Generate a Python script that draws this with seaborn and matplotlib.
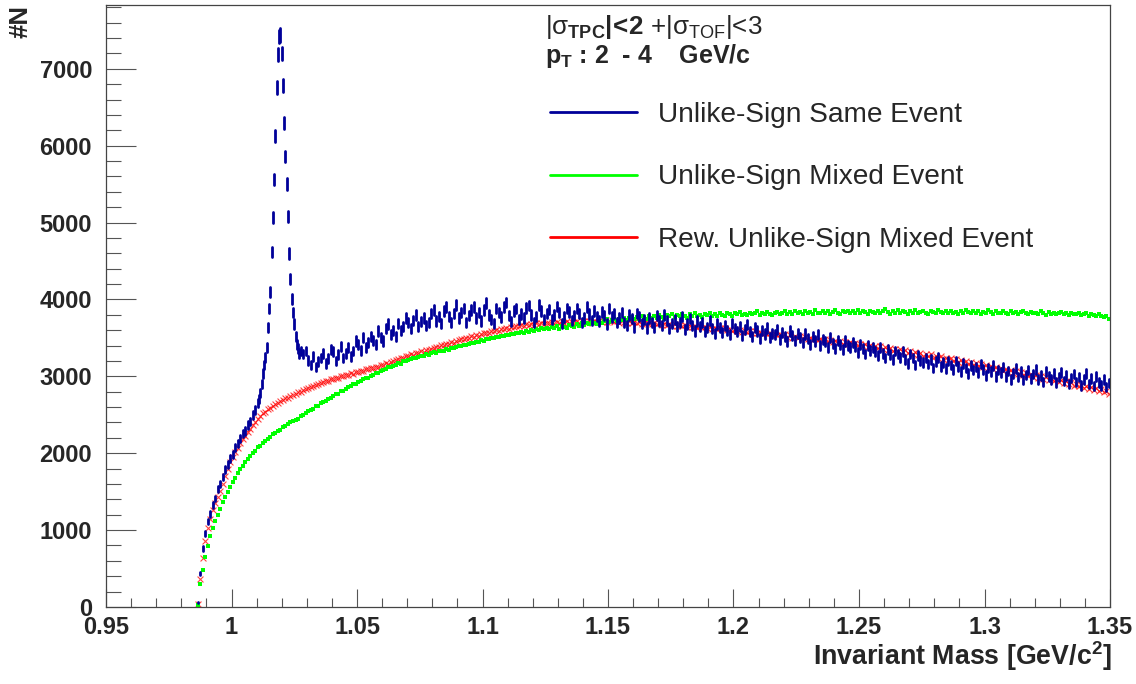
import numpy as np
import pandas as pd
import matplotlib
matplotlib.use("Agg")
import matplotlib.pyplot as plt
import seaborn as sns
from matplotlib.lines import Line2D
from matplotlib.ticker import MultipleLocator

# ---------------- data ----------------
# Same-event spectrum in three pieces: 1 MeV bins below and above the phi peak,
# 0.5 MeV bins across the peak.
LOW_START, LOW_WIDTH = 0.9865, 0.001
PEAK_START, PEAK_WIDTH = 1.0110, 0.0005
HIGH_START, HIGH_WIDTH = 1.0285, 0.001
# mixed-event spectra: 1 MeV bins from 0.9865
MIX_START, MIX_WIDTH = 0.9865, 0.001

same_event_low = [
    60, 440, 760, 960, 1110, 1210, 1330, 1410, 1530, 1600,
    1690, 1790, 1850, 1930, 1980, 2070, 2130, 2190, 2260, 2290,
    2370, 2410, 2500, 2560, 2650,
]

same_event_peak = [
    2700, 2780, 2900, 3040, 3150, 3250, 3370, 3640, 3880, 4100,
    4620, 5060, 5560, 6130, 6760, 7180, 7420, 7440, 7200, 6780,
    6300, 5860, 5500, 5080, 4600, 4260, 4010, 3830, 3680, 3520,
    3420, 3360, 3300, 3330,
]

same_event_high = [
    3290, 3330, 3210, 3150, 3260, 3120, 3190, 3240,
    3300, 3170, 3230, 3350, 3320, 3200, 3280, 3390, 3240, 3300,
    3380, 3260, 3330, 3460, 3410, 3340, 3500, 3380, 3440, 3520,
    3470, 3420, 3590, 3510, 3460, 3620, 3680, 3540, 3600, 3520,
    3690, 3600, 3650, 3760, 3700, 3620, 3730, 3800, 3650, 3710,
    3760, 3660, 3700, 3820, 3860, 3720, 3780, 3690, 3850, 3900,
    3780, 3700, 3820, 3930, 3760, 3830, 3880, 3700, 3790, 3860,
    3900, 3760, 3830, 3720, 3860, 3950, 3800, 3740, 3690, 3880,
    3830, 3770, 3900, 3960, 3790, 3710, 3850, 3880, 3740, 3810,
    3760, 3890, 3920, 3800, 3700, 3780, 3930, 3850, 3740, 3820,
    3870, 3740, 3800, 3910, 3830, 3690, 3770, 3880, 3840, 3730,
    3790, 3880, 3820, 3700, 3760, 3900, 3810, 3730, 3850, 3780,
    3720, 3840, 3790, 3680, 3880, 3770, 3820, 3700, 3760, 3830,
    3700, 3660, 3800, 3750, 3640, 3820, 3780, 3690, 3740, 3630,
    3760, 3700, 3640, 3790, 3720, 3660, 3800, 3730, 3620, 3690,
    3740, 3650, 3700, 3780, 3610, 3680, 3750, 3660, 3590, 3720,
    3650, 3700, 3580, 3640, 3730, 3620, 3560, 3680, 3640, 3570,
    3660, 3600, 3540, 3690, 3620, 3580, 3650, 3530, 3610, 3670,
    3580, 3520, 3640, 3590, 3490, 3600, 3550, 3630, 3500, 3560,
    3540, 3610, 3480, 3570, 3520, 3450, 3590, 3530, 3470, 3560,
    3500, 3440, 3550, 3490, 3410, 3520, 3460, 3540, 3400, 3480,
    3450, 3380, 3500, 3430, 3360, 3470, 3420, 3350, 3460, 3400,
    3370, 3440, 3390, 3310, 3420, 3360, 3290, 3400, 3340, 3380,
    3320, 3270, 3380, 3300, 3240, 3350, 3280, 3220, 3330, 3290,
    3250, 3320, 3220, 3170, 3290, 3240, 3150, 3270, 3210, 3180,
    3240, 3160, 3220, 3110, 3190, 3250, 3130, 3180, 3100, 3200,
    3150, 3090, 3200, 3130, 3060, 3170, 3110, 3040, 3140, 3080,
    3120, 3050, 3160, 3090, 3010, 3110, 3060, 3140, 3000, 3080,
    3050, 3120, 3000, 3070, 2960, 3040, 3100, 2990, 3060, 2950,
    3020, 3080, 2970, 3030, 3090, 2960, 3010, 2930, 3060, 3000,
    2960, 3040, 2920, 2990, 3050, 2940, 3010, 2900, 2980, 3030,
    2930, 2990, 2880, 2960, 3040, 2900, 2970, 2870, 3000, 2920,
    2880, 2960, 2860, 2910,
]

mixed_event = [
    20, 300, 480, 650, 790, 920, 1030, 1120, 1200, 1280,
    1360, 1430, 1500, 1560, 1630, 1680, 1740, 1790, 1830, 1880,
    1920, 1965, 2005, 2035, 2075, 2100, 2135, 2165, 2190, 2215,
    2245, 2265, 2295, 2305, 2340, 2355, 2375, 2400, 2425, 2435,
    2450, 2485, 2495, 2520, 2550, 2560, 2580, 2610, 2620, 2655,
    2660, 2685, 2710, 2720, 2750, 2765, 2775, 2810, 2815, 2840,
    2855, 2870, 2900, 2905, 2930, 2940, 2960, 2975, 2985, 3010,
    3015, 3040, 3045, 3070, 3085, 3095, 3120, 3125, 3140, 3150,
    3170, 3165, 3195, 3200, 3215, 3220, 3240, 3235, 3255, 3265,
    3270, 3285, 3280, 3300, 3315, 3305, 3330, 3335, 3330, 3350,
    3345, 3370, 3365, 3380, 3395, 3390, 3410, 3405, 3425, 3430,
    3435, 3450, 3445, 3470, 3465, 3485, 3480, 3500, 3495, 3515,
    3510, 3525, 3520, 3540, 3535, 3555, 3545, 3565, 3560, 3575,
    3570, 3590, 3580, 3600, 3595, 3610, 3600, 3625, 3615, 3630,
    3610, 3640, 3625, 3650, 3620, 3660, 3645, 3630, 3670, 3655,
    3640, 3680, 3660, 3690, 3665, 3700, 3675, 3710, 3690, 3680,
    3715, 3695, 3720, 3740, 3705, 3730, 3750, 3720, 3745, 3730,
    3760, 3735, 3755, 3775, 3740, 3770, 3750, 3785, 3760, 3745,
    3780, 3755, 3790, 3765, 3800, 3770, 3750, 3795, 3780, 3805,
    3770, 3800, 3785, 3815, 3780, 3760, 3805, 3790, 3820, 3785,
    3800, 3775, 3815, 3795, 3825, 3790, 3810, 3780, 3820, 3800,
    3790, 3825, 3805, 3780, 3820, 3810, 3835, 3795, 3815, 3800,
    3830, 3805, 3820, 3845, 3800, 3825, 3810, 3840, 3815, 3795,
    3825, 3840, 3810, 3830, 3855, 3815, 3835, 3805, 3845, 3820,
    3835, 3810, 3850, 3825, 3840, 3815, 3860, 3830, 3820, 3845,
    3825, 3850, 3815, 3840, 3865, 3830, 3810, 3845, 3835, 3855,
    3820, 3845, 3830, 3860, 3825, 3850, 3835, 3815, 3855, 3840,
    3830, 3855, 3820, 3845, 3870, 3835, 3815, 3850, 3830, 3860,
    3825, 3845, 3835, 3815, 3850, 3830, 3860, 3820, 3840, 3855,
    3830, 3815, 3850, 3835, 3825, 3860, 3840, 3820, 3845, 3830,
    3855, 3825, 3840, 3815, 3850, 3830, 3865, 3835, 3820, 3845,
    3830, 3850, 3815, 3840, 3825, 3860, 3835, 3810, 3845, 3830,
    3820, 3845, 3830, 3810, 3850, 3825, 3840, 3815, 3835, 3855,
    3825, 3805, 3840, 3820, 3830, 3810, 3845, 3825, 3800, 3835,
    3815, 3830, 3805, 3825, 3840, 3810, 3820, 3800, 3830, 3815,
    3805, 3820, 3795, 3810, 3825, 3790, 3815, 3800, 3780, 3805,
    3790, 3770, 3785, 3745,
]

rew_mixed_event = [
    40, 360, 640, 860, 1030, 1150, 1260, 1350, 1430, 1510,
    1600, 1700, 1790, 1880, 1950, 2010, 2070, 2130, 2180, 2230,
    2280, 2320, 2370, 2400, 2450, 2480, 2520, 2540, 2575, 2590,
    2615, 2640, 2650, 2680, 2690, 2715, 2720, 2745, 2760, 2770,
    2790, 2800, 2820, 2830, 2845, 2860, 2870, 2885, 2895, 2910,
    2920, 2945, 2940, 2965, 2960, 2985, 2980, 3005, 3000, 3015,
    3020, 3045, 3035, 3060, 3055, 3075, 3070, 3095, 3090, 3105,
    3110, 3125, 3120, 3145, 3150, 3170, 3165, 3190, 3195, 3215,
    3225, 3245, 3235, 3260, 3270, 3285, 3280, 3305, 3310, 3325,
    3320, 3345, 3340, 3360, 3370, 3385, 3380, 3405, 3410, 3425,
    3420, 3445, 3440, 3460, 3470, 3485, 3480, 3505, 3500, 3520,
    3515, 3540, 3530, 3555, 3560, 3570, 3565, 3590, 3585, 3600,
    3595, 3615, 3610, 3630, 3620, 3645, 3640, 3655, 3650, 3665,
    3660, 3675, 3665, 3685, 3670, 3690, 3680, 3695, 3685, 3700,
    3690, 3705, 3695, 3710, 3690, 3715, 3700, 3720, 3695, 3710,
    3705, 3720, 3700, 3715, 3725, 3700, 3720, 3710, 3725, 3705,
    3720, 3705, 3725, 3710, 3715, 3730, 3705, 3720, 3700, 3715,
    3710, 3695, 3715, 3700, 3710, 3690, 3705, 3685, 3700, 3690,
    3695, 3680, 3700, 3675, 3690, 3670, 3685, 3665, 3680, 3660,
    3675, 3660, 3670, 3650, 3665, 3645, 3660, 3640, 3655, 3635,
    3650, 3635, 3645, 3625, 3640, 3620, 3635, 3615, 3630, 3610,
    3625, 3605, 3620, 3595, 3610, 3590, 3605, 3580, 3595, 3575,
    3590, 3570, 3585, 3560, 3580, 3555, 3570, 3545, 3560, 3540,
    3555, 3535, 3550, 3525, 3545, 3515, 3535, 3505, 3525, 3500,
    3520, 3495, 3515, 3485, 3505, 3475, 3495, 3470, 3490, 3460,
    3485, 3455, 3475, 3450, 3465, 3435, 3460, 3425, 3450, 3415,
    3445, 3415, 3435, 3405, 3425, 3395, 3415, 3385, 3405, 3375,
    3400, 3370, 3390, 3360, 3380, 3345, 3370, 3335, 3360, 3325,
    3350, 3320, 3340, 3305, 3330, 3295, 3320, 3280, 3305, 3270,
    3295, 3260, 3285, 3245, 3270, 3235, 3260, 3220, 3245, 3210,
    3235, 3200, 3225, 3185, 3210, 3170, 3195, 3160, 3185, 3145,
    3170, 3135, 3160, 3120, 3145, 3105, 3130, 3095, 3120, 3080,
    3105, 3070, 3095, 3060, 3080, 3040, 3065, 3030, 3055, 3020,
    3045, 3005, 3030, 2995, 3020, 2980, 3005, 2965, 2990, 2955,
    2975, 2945, 2965, 2930, 2950, 2910, 2935, 2895, 2920, 2880,
    2900, 2870, 2885, 2850, 2870, 2835, 2860, 2820, 2845, 2810,
    2830, 2795, 2810, 2775,
]

legend_labels = ["Unlike-Sign Same Event", "Unlike-Sign Mixed Event",
                 "Rew. Unlike-Sign Mixed Event"]
x_ticks = [0.95, 1.0, 1.05, 1.1, 1.15, 1.2, 1.25, 1.3, 1.35]
x_tick_labels = ["0.95", "1", "1.05", "1.1", "1.15", "1.2", "1.25", "1.3", "1.35"]
y_ticks = [0, 1000, 2000, 3000, 4000, 5000, 6000, 7000]
y_tick_labels = ["0", "1000", "2000", "3000", "4000", "5000", "6000", "7000"]

# ---------------- style ----------------
sns.set_theme(style="ticks")
plt.rcParams["font.family"] = ["Liberation Sans", "DejaVu Sans"]
plt.rcParams["mathtext.fontset"] = "custom"
plt.rcParams["mathtext.rm"] = "Liberation Sans"
plt.rcParams["mathtext.bf"] = "Liberation Sans:bold"
plt.rcParams["mathtext.it"] = "Liberation Sans:italic"
plt.rcParams["mathtext.sf"] = "Liberation Sans"

BLUE = "#000099"
GREEN = "#00ff00"
RED = "#ff0000"


def centers(start, width, vals):
    return start + width * np.arange(len(vals))


fig = plt.figure(figsize=(11.36, 6.84), dpi=100)
ax = fig.add_axes([106 / 1136, 77 / 684, 1004 / 1136, 602 / 684])

# same event: sqrt(N) error bars only
mb = np.concatenate([centers(LOW_START, LOW_WIDTH, same_event_low),
                     centers(PEAK_START, PEAK_WIDTH, same_event_peak),
                     centers(HIGH_START, HIGH_WIDTH, same_event_high)])
nb = np.asarray(same_event_low + same_event_peak + same_event_high, dtype=float)
eb = np.sqrt(nb)
df_blue = pd.DataFrame({"mass": np.round(np.concatenate([mb, mb]), 5),
                        "N": np.concatenate([nb - eb, nb + eb])})
sns.lineplot(data=df_blue, x="mass", y="N", estimator="mean",
             errorbar=("pi", 100), err_style="bars", color=BLUE,
             linewidth=0, err_kws={"elinewidth": 2.0}, legend=False, ax=ax)

# reweighted mixed event: x markers
sns.scatterplot(x=centers(MIX_START, MIX_WIDTH, rew_mixed_event), y=rew_mixed_event,
                marker="x", s=18, color=RED, linewidth=0.8, alpha=0.75,
                legend=False, ax=ax)

# mixed event: small dots
sns.scatterplot(x=centers(MIX_START, MIX_WIDTH, mixed_event), y=mixed_event,
                marker="s", s=5.8, color=GREEN, linewidth=0, legend=False, ax=ax)

ax.set_xlim(0.95, 1.35)
ax.set_ylim(0, 7830)
ax.set_xlabel("")
ax.set_ylabel("")

ax.set_xticks(x_ticks)
ax.set_xticklabels(x_tick_labels, fontsize=17, fontweight="bold")
ax.set_yticks(y_ticks)
ax.set_yticklabels(y_tick_labels, fontsize=17, fontweight="bold")
ax.xaxis.set_minor_locator(MultipleLocator(0.01))
ax.yaxis.set_minor_locator(MultipleLocator(200))

tick_col = "#555555"
ax.tick_params(axis="x", which="major", direction="in", length=13, width=0.8,
               color=tick_col, pad=6.5, top=False)
ax.tick_params(axis="x", which="minor", direction="in", length=6.5, width=0.8,
               color=tick_col, top=False)
ax.tick_params(axis="y", which="major", direction="in", length=21.6, width=0.8,
               color=tick_col, pad=10, right=False)
ax.tick_params(axis="y", which="minor", direction="in", length=10.8, width=0.8,
               color=tick_col, right=False)
for sp in ax.spines.values():
    sp.set_visible(True)
    sp.set_color("#444444")
    sp.set_linewidth(0.9)

# legend
handles = [Line2D([], [], color=BLUE, lw=2),
           Line2D([], [], color=GREEN, lw=2),
           Line2D([], [], color=RED, lw=2)]
fig.legend(handles, legend_labels, loc="upper left",
           bbox_to_anchor=(550 / 1136, 1 - 102 / 684), frameon=False,
           fontsize=20.2, handlelength=3.1, handletextpad=0.75,
           labelspacing=1.30, borderpad=0, borderaxespad=0)

# annotations
fig.text(545 / 1136, 1 - 34 / 684,
         r"|σ$_{\mathbf{TPC}}\mathbf{|\!<\!2}$ +|σ$_{\mathrm{TOF}}$|<3",
         fontsize=18.6, ha="left", va="baseline")
fig.text(545 / 1136, 1 - 63 / 684,
         r"$\mathbf{p}_{\mathbf{T}}$ : 2  - 4    GeV/c",
         fontsize=18, fontweight="bold", ha="left", va="baseline")

fig.text(1112 / 1136, 1 - 665 / 684, r"Invariant Mass [GeV/c$^{\mathbf{2}}$]",
         fontsize=19.3, fontweight="bold", ha="right", va="baseline")
fig.text(21 / 1136, 1 - 5 / 684, "#N", rotation=90, fontsize=18.5,
         fontweight="bold", ha="center", va="top")

fig.savefig("out.png", dpi=100)
